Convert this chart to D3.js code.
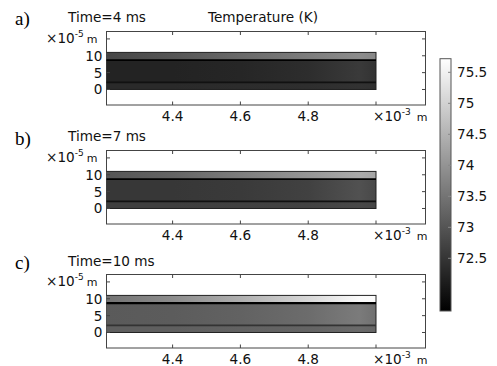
<!DOCTYPE html>
<html><head><meta charset="utf-8">
<script src="https://cdn.jsdelivr.net/npm/d3@7"></script>
<style>body{margin:0;background:#fff}text{font-family:"DejaVu Sans",sans-serif}</style>
</head><body><svg id="c" width="497" height="366"></svg>
<script>
// ---------- data ----------
const panelLabels = ["a)", "b)", "c)"];
const timeLabels = ["Time=4 ms", "Time=7 ms", "Time=10 ms"];
const chartTitle = "Temperature (K)";
const xTicks = [4.4, 4.6, 4.8, 5.0];          // ×1e-3 m
const yTicks = [0, 5, 10, 15];                // ×1e-5 m
const cTicks = [72.5, 73, 73.5, 74, 74.5, 75, 75.5];
const layerBounds = [0, 2.1, 8.7, 11];        // bottom, mid, top layers (×1e-5 m)
const barX = [4.2, 5.0];
const sampleX = [4.2, 4.4, 4.6, 4.8, 4.95, 5.0];
// temperature (K) along the layer at sampleX; [bottom, middle, top]
const tempA = [
  [72.32, 72.32, 72.35, 72.38, 72.45, 72.42],
  [72.21, 72.21, 72.26, 72.37, 72.58, 72.45],
  [72.77, 73.01, 73.33, 73.65, 73.88, 73.80]
];
const tempB = [
  [72.64, 72.64, 72.67, 72.70, 72.80, 72.77],
  [72.53, 72.53, 72.58, 72.69, 72.94, 72.80],
  [73.01, 73.25, 73.65, 74.04, 74.36, 74.28]
];
const tempC = [
  [73.17, 73.17, 73.21, 73.25, 73.34, 73.28],
  [73.09, 73.12, 73.21, 73.37, 73.62, 73.44],
  [73.49, 73.88, 74.44, 75.08, 75.64, 75.67]
];
const panelTemps = [tempA, tempB, tempC];
const tempRange = [71.65, 75.72];

// ---------- layout ----------
const svg = d3.select("#c");
const plotLeft = 106.5, plotRight = 425.5, plotH = 73.5;
const panelTops = [31.5, 150.5, 274.5];
const x = d3.scaleLinear().domain([4.205, 5.146]).range([plotLeft, plotRight]);
const color = d3.scaleLinear().domain(tempRange).range(["#000", "#fff"]);
const defs = svg.append("defs");

panelTops.forEach((top, p) => {
  const y = d3.scaleLinear().domain([-4.6, 17.2]).range([top + plotH, top]);
  const g = svg.append("g");

  svg.append("text").attr("x", 15).attr("y", top - 7 + (p === 0 ? 0 : 1.5))
    .style("font-family", "'Liberation Serif',serif").style("font-size", "19px")
    .text(panelLabels[p]);
  svg.append("text").attr("x", 68).attr("y", top - 10 + (p === 2 ? 1.5 : 0))
    .style("font-size", "13.6px").attr("fill", "#111").text(timeLabels[p]);
  if (p === 0) svg.append("text").attr("x", 208).attr("y", top - 10)
    .style("font-size", "13.6px").attr("fill", "#111").text(chartTitle);

  g.append("rect").attr("x", plotLeft).attr("y", top).attr("width", plotRight - plotLeft)
    .attr("height", plotH).attr("fill", "#fff").attr("stroke", "#444").attr("stroke-width", 1);

  const clipId = "clip" + p;
  defs.append("clipPath").attr("id", clipId).append("rect")
    .attr("x", plotLeft).attr("y", top).attr("width", plotRight - plotLeft).attr("height", plotH);
  const bars = g.append("g").attr("clip-path", `url(#${clipId})`);
  panelTemps[p].forEach((temps, L) => {
    const gid = `gr${p}_${L}`;
    const grad = defs.append("linearGradient").attr("id", gid)
      .attr("gradientUnits", "userSpaceOnUse")
      .attr("x1", x(barX[0])).attr("x2", x(barX[1])).attr("y1", 0).attr("y2", 0);
    sampleX.forEach((sx, i) => grad.append("stop")
      .attr("offset", (sx - barX[0]) / (barX[1] - barX[0]))
      .attr("stop-color", color(temps[i])));
    bars.append("rect").attr("x", x(barX[0])).attr("width", x(barX[1]) - x(barX[0]))
      .attr("y", y(layerBounds[L + 1])).attr("height", y(layerBounds[L]) - y(layerBounds[L + 1]))
      .attr("fill", `url(#${gid})`);
  });
  bars.append("rect").attr("x", x(barX[0])).attr("width", x(barX[1]) - x(barX[0]))
    .attr("y", y(layerBounds[3])).attr("height", y(layerBounds[0]) - y(layerBounds[3]))
    .attr("fill", "none").attr("stroke", "#222").attr("stroke-width", 1);
  [1, 2].forEach(k => bars.append("line")
    .attr("x1", x(barX[0])).attr("x2", x(barX[1]))
    .attr("y1", y(layerBounds[k])).attr("y2", y(layerBounds[k]))
    .attr("stroke", k === 2 ? "#000" : (p === 2 ? "#333" : "#111"))
    .attr("stroke-width", k === 2 && p === 2 ? 2.2 : 1.6));

  const tk = g.append("g").attr("stroke", "#444").attr("stroke-width", 1);
  xTicks.forEach(v => {
    tk.append("line").attr("x1", x(v)).attr("x2", x(v)).attr("y1", top).attr("y2", top + 3.5);
    tk.append("line").attr("x1", x(v)).attr("x2", x(v)).attr("y1", top + plotH).attr("y2", top + plotH - 3.5);
  });
  yTicks.forEach(v => {
    tk.append("line").attr("x1", plotLeft).attr("x2", plotLeft + 3.5).attr("y1", y(v)).attr("y2", y(v));
    tk.append("line").attr("x1", plotRight).attr("x2", plotRight - 3.5).attr("y1", y(v)).attr("y2", y(v));
  });

  const lblY = top + plotH + 15.5;
  xTicks.slice(0, -1).forEach(v => g.append("text").attr("x", x(v)).attr("y", lblY)
    .attr("text-anchor", "middle").style("font-size", "13.6px").attr("fill", "#111").text(v.toFixed(1)));
  const xu = g.append("text").attr("x", x(5.0) - 3).attr("y", lblY).style("font-size", "13.6px").attr("fill", "#111");
  xu.append("tspan").text("×10");
  xu.append("tspan").attr("dy", -6).style("font-size", "9px").text("-3");
  xu.append("tspan").attr("dy", 6).attr("dx", 6).style("font-size", "11px").text("m");

  yTicks.slice(0, -1).forEach(v => g.append("text").attr("x", plotLeft - 4).attr("y", y(v) + 5)
    .attr("text-anchor", "end").style("font-size", "13.6px").attr("fill", "#111").text(v));
  const yu = g.append("text").attr("x", 46).attr("y", y(15) + 4).style("font-size", "13.6px").attr("fill", "#111");
  yu.append("tspan").text("×10");
  yu.append("tspan").attr("dy", -6).style("font-size", "9px").text("-5");
  yu.append("tspan").attr("dy", 6).attr("dx", 3).style("font-size", "11px").text("m");
});

// ---------- colour bar ----------
const cbX = 440, cbW = 11;
const cy = d3.scaleLinear().domain(tempRange).range([311, 58.7]);
const cg = defs.append("linearGradient").attr("id", "cbar")
  .attr("x1", 0).attr("x2", 0).attr("y1", 1).attr("y2", 0);
cg.append("stop").attr("offset", 0).attr("stop-color", color(tempRange[0]));
cg.append("stop").attr("offset", 1).attr("stop-color", color(tempRange[1]));
svg.append("rect").attr("x", cbX).attr("y", cy(tempRange[1])).attr("width", cbW)
  .attr("height", cy(tempRange[0]) - cy(tempRange[1])).attr("fill", "url(#cbar)")
  .attr("stroke", "#555").attr("stroke-width", 1);
cTicks.forEach(v => {
  svg.append("line").attr("x1", cbX + cbW - 3).attr("x2", cbX + cbW).attr("y1", cy(v)).attr("y2", cy(v))
    .attr("stroke", "#888").attr("stroke-width", 1);
  svg.append("text").attr("x", 457).attr("y", cy(v) + 5).style("font-size", "13.6px").attr("fill", "#111").text(v);
});
</script></body></html>
